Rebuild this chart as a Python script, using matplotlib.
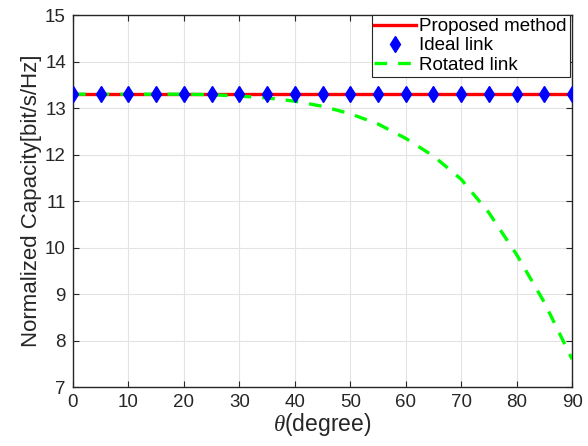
import numpy as np
import matplotlib
matplotlib.use("Agg")
import matplotlib.pyplot as plt

plt.rcParams['font.family'] = ['Liberation Sans', 'DejaVu Sans']
plt.rcParams['mathtext.fontset'] = 'custom'
plt.rcParams['mathtext.it'] = 'Liberation Serif:italic'

# 数据
theta = [0, 5, 10, 15, 20, 25, 30, 35, 40, 45, 50, 55, 60, 65, 70, 75, 80, 85, 90]
proposed = [13.3] * len(theta)
ideal = [13.3] * len(theta)
rotated = [13.3, 13.3, 13.3, 13.3, 13.3, 13.29, 13.26, 13.22, 13.15, 13.04,
           12.88, 12.66, 12.35, 11.97, 11.47, 10.75, 9.85, 8.82, 7.6]

fig = plt.figure(figsize=(5.88, 4.46), dpi=100)
ax = fig.add_axes([0.124, 0.132, 0.849, 0.834])

ax.plot(theta, proposed, color='red', lw=2.4, label='Proposed method', zorder=3)
ax.plot(theta, ideal, ls='none', marker='d', ms=8, mew=1, color='blue', label='Ideal link', zorder=4)
ax.plot(theta, rotated, color='#00ff00', lw=2.4, ls=(0, (3.8, 3.3)), label='Rotated link', zorder=3)

ax.set_xlim(0, 90)
ax.set_ylim(7, 15)
ax.set_xticks(range(0, 91, 10))
ax.set_yticks(range(7, 16))
ax.grid(True, color='#e3e3e3', lw=0.8)
ax.tick_params(direction='in', top=True, right=True, labelsize=13.5, length=4,
               colors='#262626', pad=5)
for s in ax.spines.values():
    s.set_color('#262626')
    s.set_linewidth(1.0)

ax.set_xlabel(r'$\theta$(degree)', fontsize=16.5, labelpad=0, color='#262626')
ax.set_ylabel('Normalized Capacity[bit/s/Hz]', fontsize=16, labelpad=2, color='#262626')

leg = ax.legend(loc='upper right', fontsize=13.5, fancybox=False, framealpha=1,
                edgecolor='#262626', borderaxespad=0, bbox_to_anchor=(0.995, 1.0),
                handlelength=2.2, borderpad=0.15, labelspacing=0.12, handletextpad=0.2)
leg.get_frame().set_linewidth(0.8)

plt.savefig('out.png', dpi=100)
